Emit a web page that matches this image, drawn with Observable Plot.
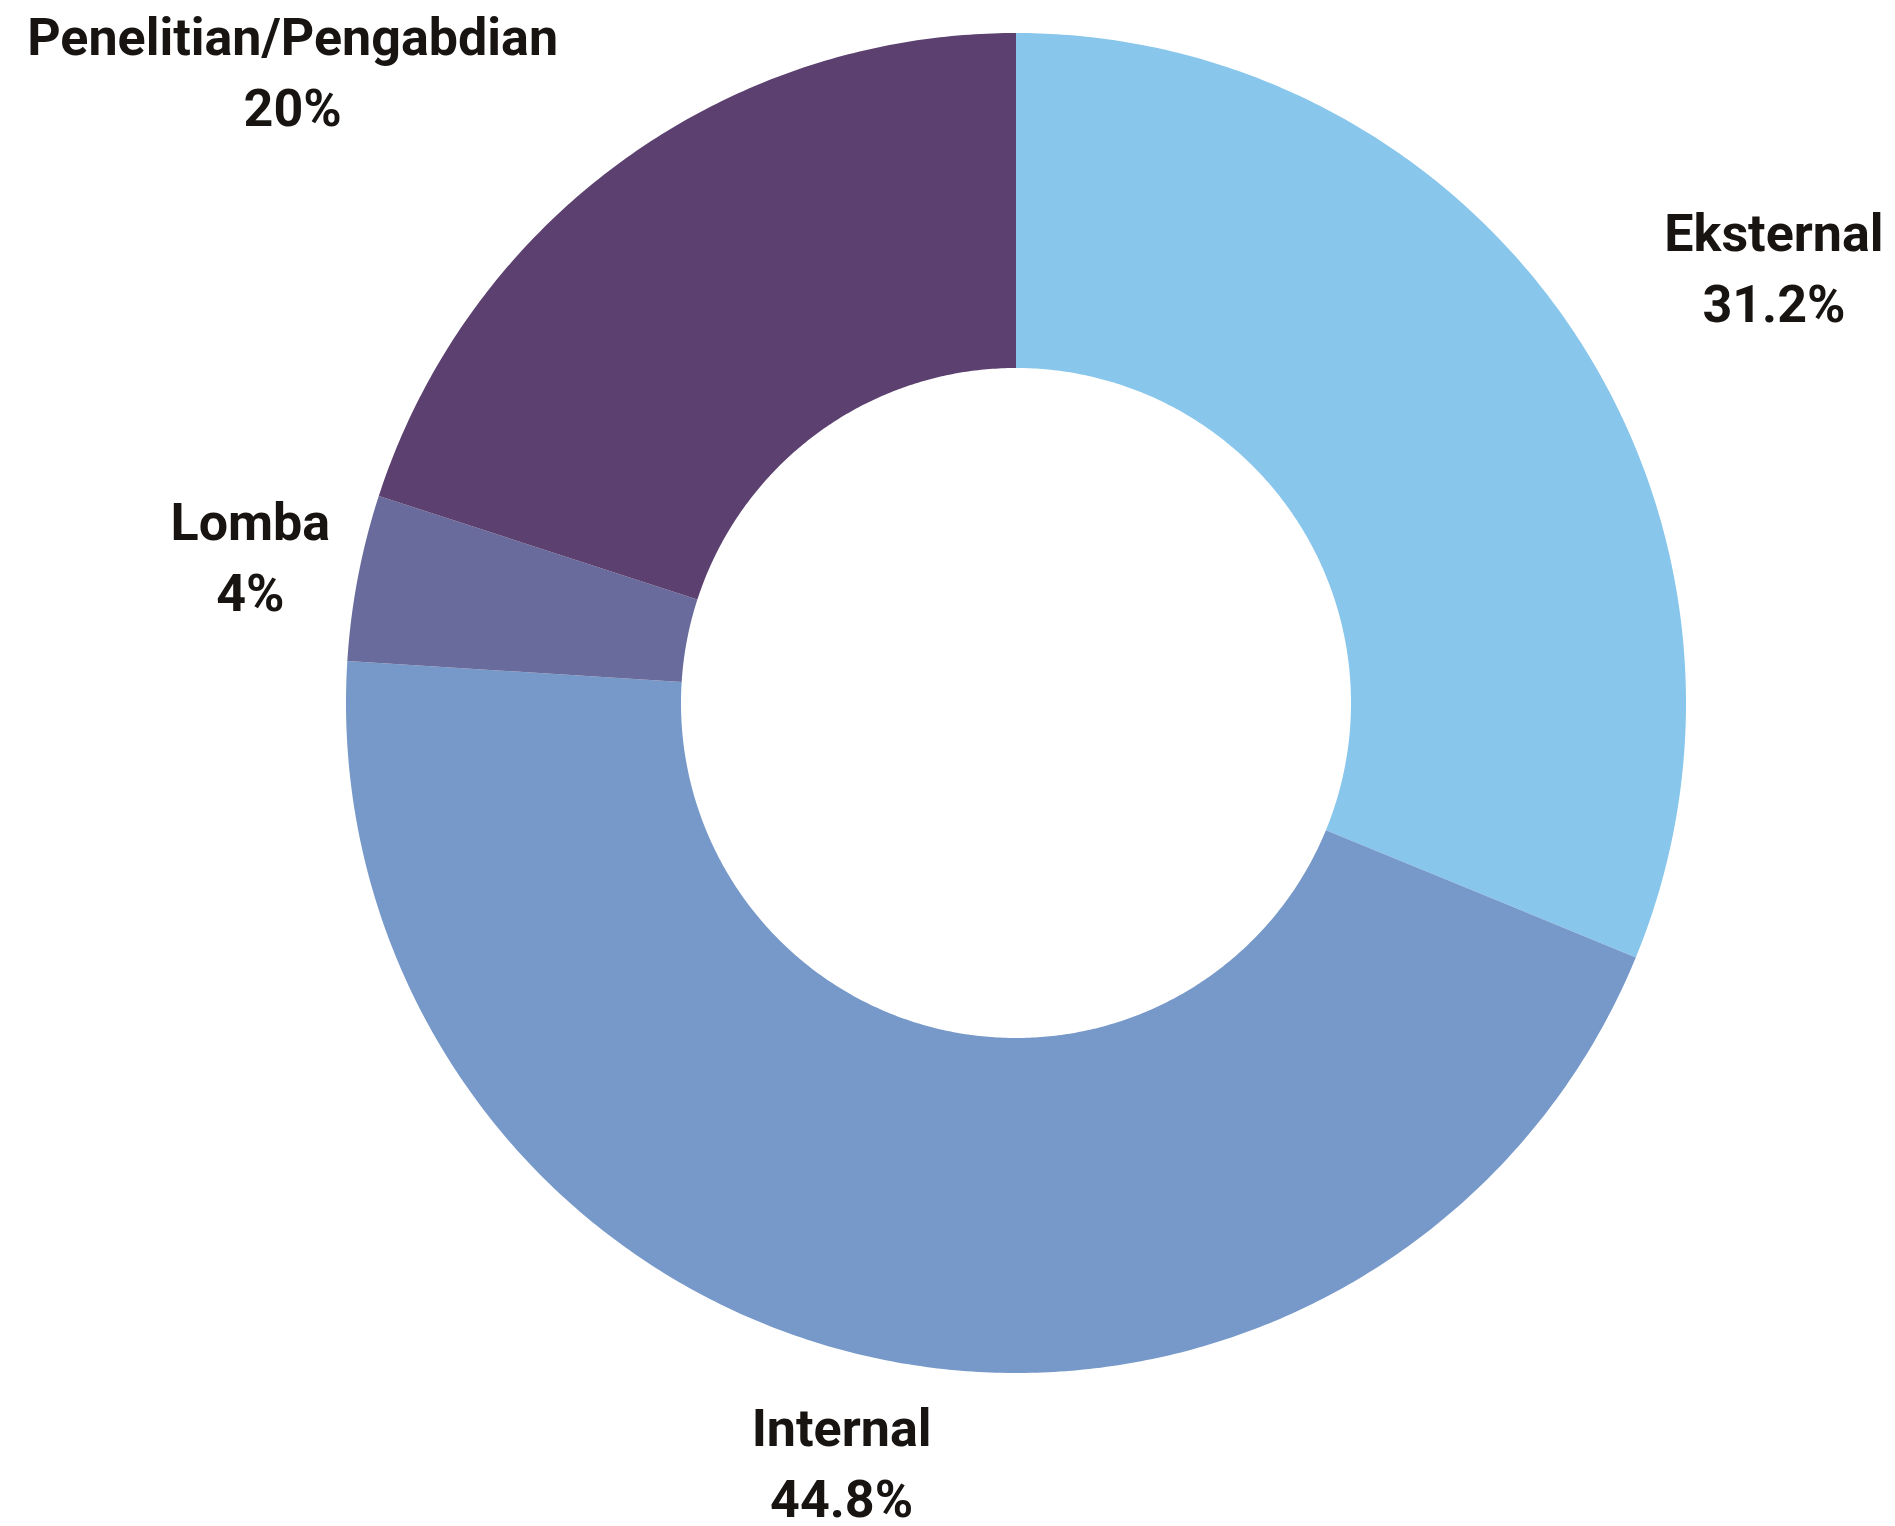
<!DOCTYPE html>
<html>
<head>
<meta charset="utf-8">
<script src="https://cdn.jsdelivr.net/npm/d3@7"></script>
<script src="https://cdn.jsdelivr.net/npm/@observablehq/plot@0.6"></script>
<style>
  html, body { margin: 0; padding: 0; background: #ffffff; }
  #chart svg { display: block; }
</style>
</head>
<body>
<div id="chart"></div>
<script>
// ---- data ----
const categories = ["Eksternal", "Internal", "Lomba", "Penelitian/Pengabdian"];
const values = [31.2, 44.8, 4, 20];
const palette = ["#88c6ec", "#7799c9", "#696b9d", "#5c4170"];

// ---- geometry (in unit-radius data space) ----
const W = 1895, H = 1526;
const cx = 1016, cy = 703, R = 670;
const innerRatio = 0.5;
const labelRatio = 780 / 670;
const fontSize = 52;
const fontFamily = "Roboto, 'Noto Sans', sans-serif";

const pie = d3.pie().sort(null).value(d => d.value).startAngle(0).endAngle(2 * Math.PI);
const rows = categories.map((c, i) => ({category: c, value: values[i]}));
const arcs = pie(rows);

// ring segment sample points: inner edge (x1,y1) and outer edge (x2,y2)
const ringPts = [];
for (const a of arcs) {
  const n = Math.max(8, Math.ceil((a.endAngle - a.startAngle) / (Math.PI / 360)));
  for (let k = 0; k <= n; k++) {
    const t = a.startAngle + (a.endAngle - a.startAngle) * k / n;
    ringPts.push({
      category: a.data.category,
      x1: innerRatio * Math.sin(t), y1: innerRatio * Math.cos(t),
      x2: Math.sin(t), y2: Math.cos(t)
    });
  }
}

// measure label block widths so that lines are centred within a block that is
// aligned outward (start/end) on diagonal slices
const ctx = document.createElement("canvas").getContext("2d");
ctx.font = `700 ${fontSize}px Roboto`;
const labels = arcs.map(a => {
  const m = (a.startAngle + a.endAngle) / 2;
  const s = Math.sin(m), c = Math.cos(m);
  const lines = [a.data.category, `${a.data.value}%`];
  const blockW = Math.max(...lines.map(t => ctx.measureText(t).width));
  const diagonal = Math.min(Math.abs(s), Math.abs(c)) >= 0.4;
  const shift = diagonal ? Math.sign(s) * (blockW / 2) / R : 0;
  return {
    x: labelRatio * s + shift, y: labelRatio * c,
    text: lines.join("\n")
  };
});

const chart = Plot.plot({
  width: W, height: H,
  margin: 0,
  style: {background: "#ffffff", overflow: "visible"},
  x: {domain: [-1, 1], range: [cx - R, cx + R], axis: null},
  y: {domain: [-1, 1], range: [cy + R, cy - R], axis: null},
  color: {domain: categories, range: palette},
  marks: [
    Plot.area(ringPts, {x1: "x1", y1: "y1", x2: "x2", y2: "y2", z: "category", fill: "category", curve: "linear"}),
    Plot.text(labels, {
      x: "x", y: "y", text: "text",
      textAnchor: "middle", lineAnchor: "middle", dy: -5,
      fontSize, fontWeight: 700, lineHeight: 1.365,
      fontFamily, fill: "#171412"
    })
  ]
});
document.getElementById("chart").appendChild(chart);
</script>
</body>
</html>
